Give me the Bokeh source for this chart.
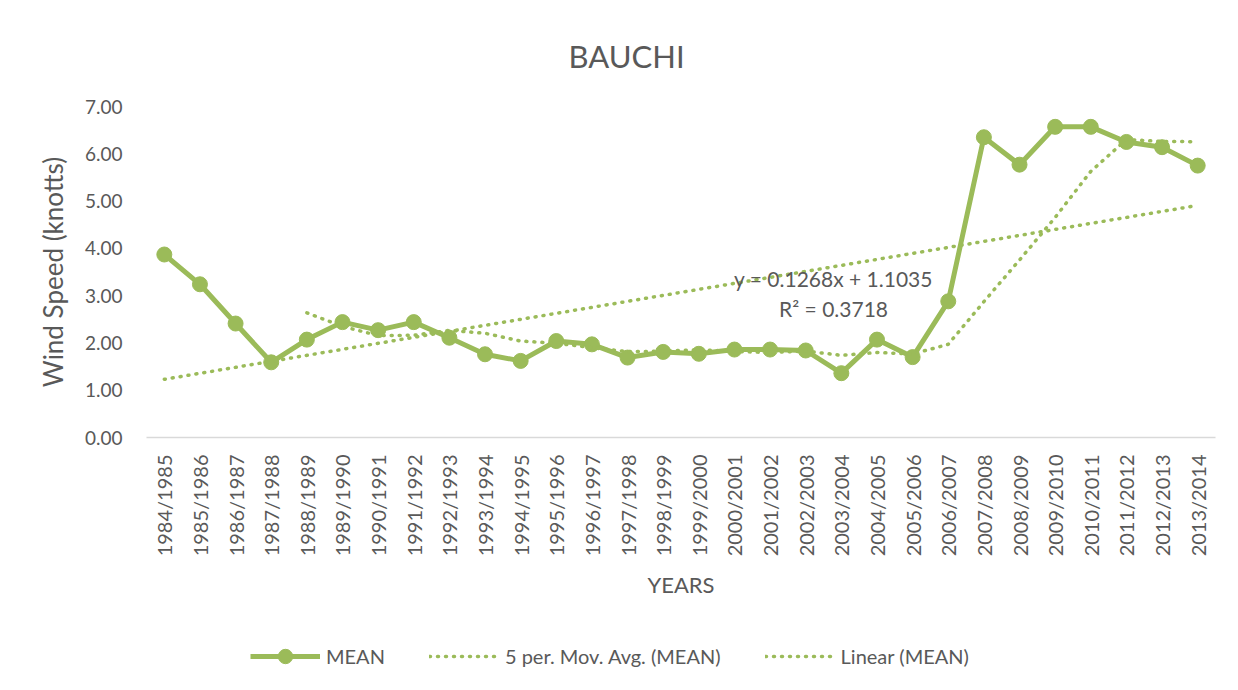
import numpy as np
import pandas as pd
from math import pi
from bokeh.plotting import figure
from bokeh.models import (ColumnDataSource, Legend, LegendItem, Label,
                          FactorRange, NumeralTickFormatter, FixedTicker)
from bokeh.embed import file_html
from bokeh.resources import INLINE

# ---------------- data ----------------
years = ["1984/1985", "1985/1986", "1986/1987", "1987/1988", "1988/1989",
         "1989/1990", "1990/1991", "1991/1992", "1992/1993", "1993/1994",
         "1994/1995", "1995/1996", "1996/1997", "1997/1998", "1998/1999",
         "1999/2000", "2000/2001", "2001/2002", "2002/2003", "2003/2004",
         "2004/2005", "2005/2006", "2006/2007", "2007/2008", "2008/2009",
         "2009/2010", "2010/2011", "2011/2012", "2012/2013", "2013/2014"]
mean_speed = [3.87, 3.24, 2.41, 1.59, 2.07, 2.44, 2.27, 2.44, 2.11, 1.76,
              1.62, 2.04, 1.97, 1.69, 1.81, 1.77, 1.86, 1.86, 1.84, 1.36,
              2.07, 1.70, 2.88, 6.35, 5.77, 6.57, 6.57, 6.25, 6.14, 5.75]
trend_slope = 0.1268
trend_intercept = 1.1035
ma_period = 5
equation_text = "y = 0.1268x + 1.1035"
r2_text = "R\u00b2 = 0.3718"
y_ticks = [0, 1, 2, 3, 4, 5, 6, 7]
chart_title = "BAUCHI"
x_title = "YEARS"
y_title = "Wind Speed (knotts)"
legend_labels = ["MEAN", "5 per. Mov. Avg. (MEAN)", "Linear (MEAN)"]

# ---------------- derived series ----------------
idx = np.arange(1, len(years) + 1)
linear = trend_intercept + trend_slope * idx
ma = pd.Series(mean_speed).rolling(ma_period).mean().to_numpy()

src = ColumnDataSource(dict(year=years, mean=mean_speed, lin=linear))
ma_src = ColumnDataSource(dict(year=years[ma_period - 1:], ma=ma[ma_period - 1:]))

GREEN = "#9BBB59"
TXT = "#595959"
FONT = "Lato"

FRAME_W = 1069
FRAME_H = 331
BORDER_L = 146
BORDER_T = 106

p = figure(x_range=FactorRange(factors=years), y_range=(0, 7),
           frame_width=FRAME_W, frame_height=FRAME_H,
           output_backend="svg", toolbar_location=None,
           min_border_left=BORDER_L, min_border_right=15,
           min_border_top=BORDER_T, min_border_bottom=201, title=chart_title)

p.title.text_font = FONT
p.title.text_font_size = "31px"
p.title.text_font_style = "normal"
p.title.text_color = TXT
p.title.align = "left"
p.title.offset = 422
p.title.standoff = 63

p.outline_line_color = None
p.xgrid.visible = False
p.ygrid.visible = False

p.yaxis.ticker = FixedTicker(ticks=y_ticks)
p.yaxis.formatter = NumeralTickFormatter(format="0.00")
p.yaxis.axis_line_color = None
p.yaxis.major_tick_line_color = None
p.yaxis.minor_tick_line_color = None
p.yaxis.major_tick_out = 0
p.yaxis.major_tick_in = 0
p.yaxis.major_label_standoff = 24
p.yaxis.major_label_text_font = FONT
p.yaxis.major_label_text_font_size = "19px"
p.yaxis.major_label_text_color = TXT
p.yaxis.axis_label = y_title
p.yaxis.axis_label_text_font = FONT
p.yaxis.axis_label_text_font_size = "26px"
p.yaxis.axis_label_text_font_style = "normal"
p.yaxis.axis_label_text_color = TXT
p.yaxis.axis_label_standoff = 13

p.xaxis.axis_line_color = "#d9d9d9"
p.xaxis.axis_line_width = 1.5
p.xaxis.major_tick_line_color = None
p.xaxis.minor_tick_line_color = None
p.xaxis.major_tick_out = 0
p.xaxis.major_tick_in = 0
p.xaxis.major_label_orientation = pi / 2
p.xaxis.major_label_standoff = 17
p.xaxis.major_label_text_font = FONT
p.xaxis.major_label_text_font_size = "20px"
p.xaxis.major_label_text_color = TXT
p.xaxis.axis_label = x_title
p.xaxis.axis_label_text_font = FONT
p.xaxis.axis_label_text_font_size = "22px"
p.xaxis.axis_label_text_font_style = "normal"
p.xaxis.axis_label_text_color = TXT
p.xaxis.axis_label_standoff = 12

r_line = p.line("year", "mean", source=src, line_color=GREEN, line_width=5,
                line_join="round")
r_pts = p.scatter("year", "mean", source=src, size=15, fill_color=GREEN,
                  line_color=GREEN)
r_ma = p.line("year", "ma", source=ma_src, line_color=GREEN, line_width=3.5,
              line_dash="1 7", line_cap="round")
r_lin = p.line("year", "lin", source=src, line_color=GREEN, line_width=3.5,
               line_dash="1 7", line_cap="round")

p.add_layout(Label(x=19.28, y=3.36, text=equation_text, text_align="center",
                   text_baseline="middle", text_font=FONT,
                   text_font_size="21px", text_color=TXT))
p.add_layout(Label(x=19.28, y=2.73, text=r2_text, text_align="center",
                   text_baseline="middle", text_font=FONT,
                   text_font_size="21px", text_color=TXT))

# legend lives in the right side panel (not clipped); positioned relative to
# that panel, which starts at the frame's right edge and spans the frame height
legend_left = 250      # page x of the legend's left edge
legend_top = 638       # page y of the legend's top edge
legend_h = 36
legend = Legend(items=[LegendItem(label=legend_labels[0], renderers=[r_line, r_pts]),
                       LegendItem(label=legend_labels[1], renderers=[r_ma]),
                       LegendItem(label=legend_labels[2], renderers=[r_lin])],
                orientation="horizontal",
                location=(legend_left - (BORDER_L + FRAME_W),
                          (BORDER_T + FRAME_H) - legend_top - legend_h),
                glyph_width=70, glyph_height=legend_h, label_standoff=6,
                spacing=44, padding=0, margin=0, border_line_color=None,
                background_fill_alpha=0, label_text_font=FONT,
                label_text_font_size="20px", label_text_color=TXT)
p.add_layout(legend, "right")

open("out.html", "w").write(file_html(p, INLINE))
